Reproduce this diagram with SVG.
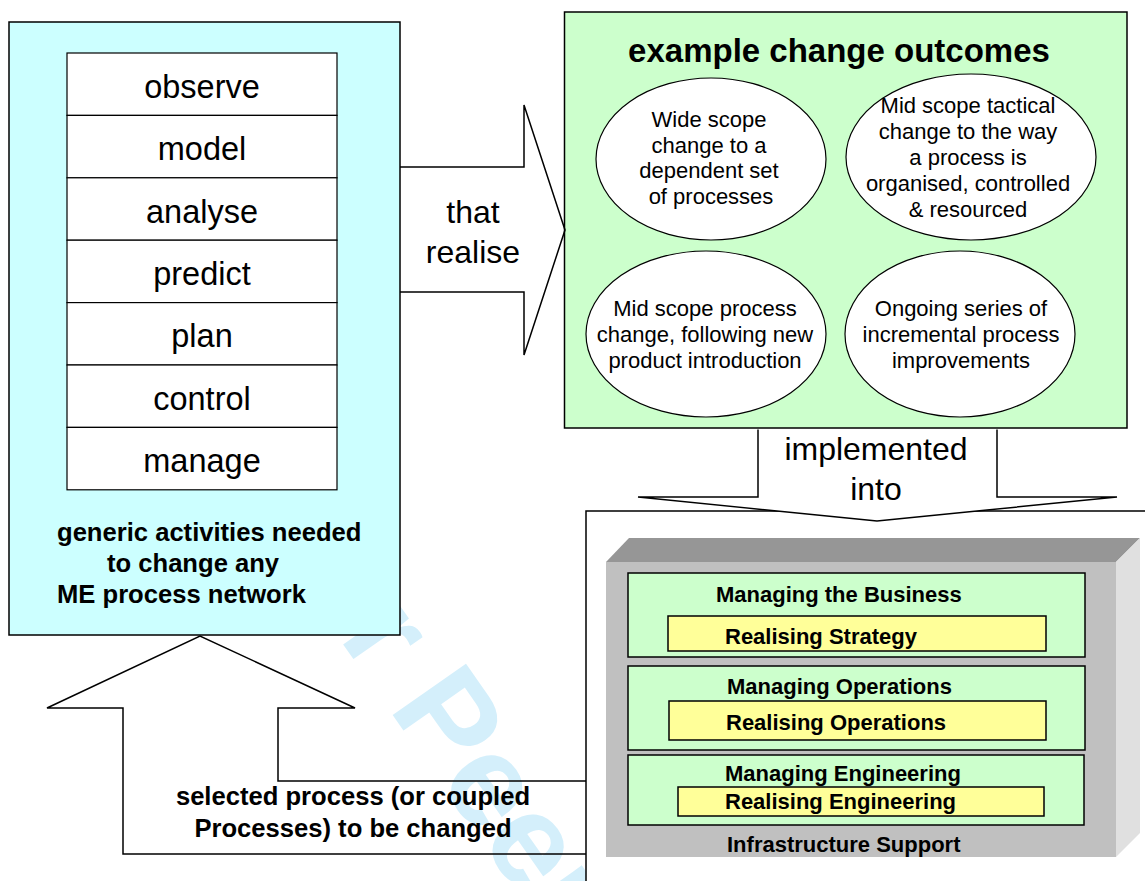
<svg xmlns="http://www.w3.org/2000/svg" width="1145" height="881" viewBox="0 0 1145 881">
<style>
text{font-family:"Liberation Sans",Arial,Helvetica,sans-serif;fill:#000}
.b{font-weight:bold}
.box{stroke:#000;stroke-width:1.5}
.row{fill:#fff;stroke:#000;stroke-width:1.2}
.ell{fill:#fff;stroke:#000;stroke-width:1.2}
.conn{fill:none;stroke:#000;stroke-width:1.5;stroke-linejoin:miter}
.li{font-size:32.5px;text-anchor:middle}
.et{font-size:22px;text-anchor:middle}
.bt{font-size:22px;font-weight:bold}
.lbl{font-size:32px;text-anchor:middle}
.big{font-size:25.6px;font-weight:bold}
.band{fill:#CCFFCC;stroke:#000;stroke-width:1.5}
.yel{fill:#FFFF99;stroke:#000;stroke-width:1.5}
</style>
<rect x="0" y="0" width="1145" height="881" fill="#fff"/>
<g id="watermark" transform="translate(247,507) rotate(55)">
<text x="0" y="0" class="b" style="font-size:130px;fill:#D4EFFB">For Peer</text>
</g>
<g id="activities">
<rect x="9" y="22" width="391" height="613" fill="#CCFFFF" class="box"/>
<rect x="67" y="53" width="270" height="62.4" class="row"/>
<rect x="67" y="115.4" width="270" height="62.4" class="row"/>
<rect x="67" y="177.8" width="270" height="62.4" class="row"/>
<rect x="67" y="240.2" width="270" height="62.4" class="row"/>
<rect x="67" y="302.6" width="270" height="62.4" class="row"/>
<rect x="67" y="365" width="270" height="62.4" class="row"/>
<rect x="67" y="427.4" width="270" height="62.4" class="row"/>
<text x="202" y="97.7" class="li">observe</text>
<text x="202" y="160.1" class="li">model</text>
<text x="202" y="222.5" class="li">analyse</text>
<text x="202" y="284.9" class="li">predict</text>
<text x="202" y="347.3" class="li">plan</text>
<text x="202" y="409.7" class="li">control</text>
<text x="202" y="472.1" class="li">manage</text>
<text x="57" y="541" class="big">generic activities needed</text>
<text x="107" y="572" class="big">to change any</text>
<text x="57" y="603" class="big">ME process network</text>
</g>
<g id="outcomes">
<rect x="564.5" y="12" width="562.5" height="416" fill="#CCFFCC" class="box"/>
<text x="839" y="62" class="b" style="font-size:33px;text-anchor:middle">example change outcomes</text>
<ellipse cx="711" cy="159" rx="115" ry="81" class="ell"/>
<text x="709" y="127" class="et">Wide scope</text>
<text x="709" y="152.5" class="et">change to a</text>
<text x="709" y="178" class="et">dependent set</text>
<text x="711" y="203.5" class="et">of processes</text>
<ellipse cx="971" cy="157" rx="125" ry="83" class="ell"/>
<text x="968" y="113" class="et">Mid scope tactical</text>
<text x="968" y="139" class="et">change to the way</text>
<text x="968" y="165" class="et">a process is</text>
<text x="968" y="191" class="et">organised, controlled</text>
<text x="968" y="217" class="et">&amp; resourced</text>
<ellipse cx="706" cy="334" rx="120" ry="83" class="ell"/>
<text x="705" y="316" class="et">Mid scope process</text>
<text x="705" y="342" class="et">change, following new</text>
<text x="705" y="368" class="et">product introduction</text>
<ellipse cx="960" cy="334" rx="115" ry="83" class="ell"/>
<text x="961" y="316" class="et">Ongoing series of</text>
<text x="961" y="342" class="et">incremental process</text>
<text x="961" y="368" class="et">improvements</text>
</g>
<g id="infrastructure">
<rect x="586" y="511" width="570" height="380" fill="#fff" class="box"/>
<polygon points="606,562 629,538 1140,538 1116,562" fill="#969696"/>
<polygon points="1116,562 1140,538 1140,833 1116,857" fill="#E0E0E0"/>
<rect x="606" y="562" width="510" height="295" fill="#C0C0C0"/>
<rect x="628" y="573" width="457" height="84" class="band"/>
<rect x="668" y="616" width="378" height="35" class="yel"/>
<rect x="628" y="666" width="457" height="84" class="band"/>
<rect x="669" y="701" width="377" height="39" class="yel"/>
<rect x="628" y="755" width="456" height="70" class="band"/>
<rect x="678" y="787" width="366" height="29" class="yel"/>
<text x="716" y="602" class="bt">Managing the Business</text>
<text x="725" y="644" class="bt">Realising Strategy</text>
<text x="727" y="694" class="bt">Managing Operations</text>
<text x="726" y="730" class="bt">Realising Operations</text>
<text x="725" y="781" class="bt">Managing Engineering</text>
<text x="725" y="809" class="bt">Realising Engineering</text>
<text x="727" y="852" class="bt">Infrastructure Support</text>
</g>
<g id="connectors">
<path id="realise" class="conn" d="M400,167 H524 V105 L565,230 L524,355 V292 H400"/>
<path id="implemented" class="conn" style="fill:#fff" d="M758,429.5 V497 H638 L877,521 L1117,497 H997 V429.5"/>
<path id="selected" class="conn" d="M586,781 H278 V708 H355 L200,636 L47,708 H123 V854 H586"/>
<text x="473" y="223" class="lbl">that</text>
<text x="473" y="263" class="lbl">realise</text>
<text x="876" y="460" class="lbl">implemented</text>
<text x="876" y="500" class="lbl">into</text>
<text x="353" y="805" class="big" style="text-anchor:middle">selected process (or coupled</text>
<text x="353" y="837" class="big" style="text-anchor:middle">Processes) to be changed</text>
</g>
</svg>
